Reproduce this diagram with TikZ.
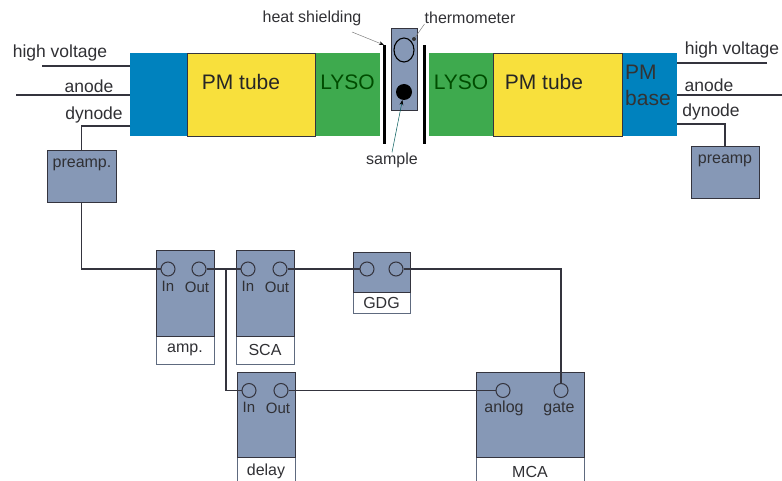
\documentclass[tikz,border=0pt]{standalone}
\usepackage{fontspec}
\setmainfont{Liberation Sans}
\usetikzlibrary{arrows.meta,positioning,shapes.geometric}
\definecolor{cbase}{RGB}{0,130,190}
\definecolor{ctube}{RGB}{248,224,60}
\definecolor{clyso}{RGB}{62,170,78}
\definecolor{cmod}{RGB}{134,152,182}
\definecolor{cwire}{RGB}{52,52,62}
\definecolor{clbl}{RGB}{48,48,52}
\newcommand{\fsz}[1]{\fontsize{#1}{#1}\selectfont}
\tikzset{
  part/.style={inner sep=0pt, outer sep=0pt},
  modbody/.style={draw=cwire, fill=cmod, inner sep=0pt, outer sep=0pt, line width=0.5pt},
  modcap/.style={draw=cmod!70!black, fill=white, inner sep=0pt, outer sep=0pt, line width=0.5pt, text=clbl, font=\fsz{16}},
  jack/.style={circle, draw=cwire, line width=1pt, minimum size=14pt, inner sep=0pt},
  wire/.style={draw=cwire, line width=1.3pt},
  lbl/.style={text=clbl, inner sep=0pt, font=\fsz{17.5}},
  slbl/.style={text=clbl, inner sep=0pt, font=\fsz{15}},
  leader/.style={gray, line width=0.5pt, -{Stealth[length=5pt,black]}},
}
\begin{document}
\begin{tikzpicture}[x=1pt,y=-1pt]
  \useasboundingbox (0,0) rectangle (782,481);
  % detector row
  \foreach \nam/\x/\wid/\col in {baseleft/158.5/57/cbase, tubeleft/251/128/ctube, lysoleft/347.5/65/clyso,
      lysoright/461/64/clyso, tuberight/557.5/129/ctube, baseright/649.5/55/cbase}{
    \node[part, fill=\col, minimum width=\wid pt, minimum height=83pt] (\nam) at (\x,94.5) {};}
  \draw[cwire, line width=0.6pt] (tubeleft.north west) rectangle (tubeleft.south east);
  \draw[cwire, line width=0.6pt] (tuberight.north west) rectangle (tuberight.south east);
  \node[font=\fsz{21}, text=black!85, inner sep=0pt] at (241,82) {PM tube};
  \node[font=\fsz{21}, text=black!85, inner sep=0pt] at (544,82) {PM tube};
  \node[font=\fsz{21}, text=green!30!black, inner sep=0pt] at (347.5,82) {LYSO};
  \node[font=\fsz{21}, text=green!30!black, inner sep=0pt] at (461,82) {LYSO};
  \node[font=\fsz{21}, text=black!80, inner sep=0pt, align=left, anchor=west] at (625,85)
    {PM\\[5pt]base};
  % sample holder and shields
  \node[part, fill=black, minimum width=3pt, minimum height=99pt] (shieldl) at (384,94.5) {};
  \node[part, fill=black, minimum width=3pt, minimum height=99pt] (shieldr) at (424,94.5) {};
  \node[modbody, minimum width=26pt, minimum height=82pt] (holder) at (404,69) {};
  \node[ellipse, draw=black, line width=1.1pt, minimum width=20pt, minimum height=24pt, inner sep=0pt] (thermo) at (404,50) {};
  \node[circle, fill=black!80, minimum size=4pt, inner sep=0pt] (thermodot) at (414,39) {};
  \node[circle, fill=black, minimum size=16pt, inner sep=0pt] (samp) at (404,92) {};
  \node[lbl, font=\fsz{16}] (heatlbl) at (312,18) {heat shielding};
  \node[lbl, font=\fsz{16}] (thermlbl) at (470,18) {thermometer};
  \node[lbl, font=\fsz{16}] (samplbl) at (392,160) {sample};
  \coordinate (heatend) at (352,32);
  \draw[leader] (heatend) -- (shieldl.north);
  \draw[leader, -] (thermlbl.south west) -- (thermodot);
  \draw[leader, draw=teal!70!black] (samplbl.north) -- (samp);
  % front ends
  \node[lbl] at (60,53) {high voltage};
  \node[lbl] at (89,86) {anode};
  \node[lbl] at (94,115) {dynode};
  \node[lbl] at (732,50) {high voltage};
  \node[lbl] at (709,85) {anode};
  \node[lbl] at (711,112) {dynode};
  \node[modbody, minimum width=69pt, minimum height=52pt] (preampl) at (81.5,176) {};
  \node[modbody, minimum width=68pt, minimum height=52pt] (preampr) at (725,172) {};
  \node[slbl, font=\fsz{16}] at (82,165) {preamp.};
  \node[slbl, font=\fsz{16}] at (725,161) {preamp};
  \coordinate (hvla) at (42,66);
  \coordinate (anla) at (16,95);
  \coordinate (dyla) at (81,126);
  \coordinate (hvra) at (767,63);
  \coordinate (anra) at (782,95);
  \coordinate (dyra) at (725,124);
  \draw[wire] (hvla) -- (hvla -| baseleft.west);
  \draw[wire] (anla) -- (anla -| baseleft.west);
  \draw[wire] (baseleft.west |- dyla) -| (preampl.north);
  \draw[wire] (hvra) -- (hvra -| baseright.east);
  \draw[wire] (anra) -- (anra -| baseright.east);
  \draw[wire] (baseright.east |- dyra) -| (preampr.north);
  % modules
  \foreach \nam/\x/\wid/\yb/\hb/\yc/\hc/\txt in {amp/185/58/293/86/350/28/amp., sca/265/58/293/86/350/28/SCA,
      gdg/381.5/57/272/40/302.5/21/GDG, delay/266/58/414.5/85/471.5/29/delay, mca/530/108/414.5/85/471.5/29/MCA}{
    \node[modcap, minimum width=\wid pt, minimum height=\hc pt] (\nam cap) at (\x,\yc) {\txt};
    \node[modbody, minimum width=\wid pt, minimum height=\hb pt] (\nam) at (\x,\yb) {};}
  \foreach \nam/\x/\y in {ampin/168/269, ampout/199/269, scain/248/269, scaout/280/269, gdgin/367/269, gdgout/396/269,
      delayin/249/390.5, delayout/281/390.5, mcaan/503/390.5, mcagate/561/390.5}{
    \node[jack] (\nam) at (\x,\y) {};}
  \foreach \x/\y/\txt in {168/286/In, 197/287/Out, 248/286/In, 277/287/Out, 249/407/In, 278/408/Out}{
    \node[slbl] at (\x,\y) {\txt};}
  \node[slbl, font=\fsz{16}] at (504,408) {anlog};
  \node[slbl, font=\fsz{16}] at (559,409) {gate};
  % signal path
  \coordinate (tap) at (226,269);
  \draw[wire] (preampl.south) |- (ampin);
  \draw[wire] (ampout) -- (scain);
  \draw[wire] (tap) |- (delayin);
  \draw[wire] (scaout) -- (gdgin);
  \draw[wire] (gdgout) -| (mcagate);
  \draw[wire] (delayout) -- (mcaan);
\end{tikzpicture}
\end{document}
